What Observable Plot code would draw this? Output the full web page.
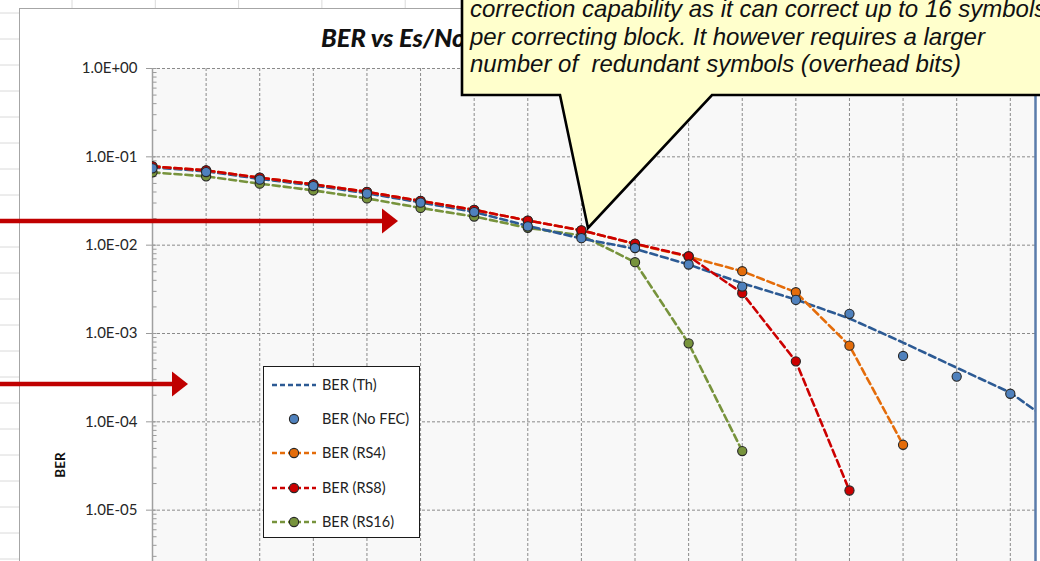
<!DOCTYPE html>
<html><head><meta charset="utf-8">
<script src="https://cdn.jsdelivr.net/npm/d3@7"></script>
<script src="https://cdn.jsdelivr.net/npm/@observablehq/plot@0.6"></script>
<style>
html,body{margin:0;padding:0;background:#fff;}
#wrap{position:relative;width:1040px;height:561px;overflow:hidden;background:#fff;}
#sheet,#plot,#overlay{position:absolute;left:0;top:0;}
#chartArea{position:absolute;left:19px;top:8px;width:1100px;height:700px;background:#fff;border-left:1.5px solid #a6a6a6;border-top:1.5px solid #a6a6a6;}
#legend{position:absolute;left:263px;top:366px;width:157px;height:172px;background:#fff;border:1.3px solid #1a1a1a;box-sizing:border-box;font-family:Lato,sans-serif;font-size:14.5px;color:#222;}
.li{position:absolute;left:0;height:20px;width:150px;}
.li svg{position:absolute;left:0;top:0;}
.li span{position:absolute;left:58px;top:1px;white-space:nowrap;}
</style></head>
<body>
<div id="wrap">
  <svg id="sheet" width="1040" height="561"></svg>
  <div id="chartArea"></div>
  <div id="plot"></div>
  <div id="legend"></div>
  <svg id="overlay" width="1040" height="561"></svg>
</div>
<script>
// ---- data ----
const esNo = [0,1,2,3,4,5,6,7,8,9,10,11,12,13,14,15,16,17];
const berTh    = [0.0760,0.0685,0.0563,0.0475,0.0386,0.0305,0.0238,0.0165,0.0119,0.0091,0.00604,0.00371,0.00242,0.00148,0.000789,0.000410,0.000214,0.000079];
const berNoFec = [0.0741,0.0673,0.0552,0.0467,0.0383,0.0303,0.0237,0.0163,0.0120,0.00929,0.00604,0.00340,0.00240,0.00167,0.000557,0.000325,0.000208];
const berRS4   = [0.0780,0.0703,0.0581,0.0488,0.0401,0.0317,0.0251,0.0190,0.0147,0.0103,0.0074,0.00507,0.00293,0.000729,0.000055];
const berRS8   = [0.0780,0.0703,0.0581,0.0488,0.0401,0.0317,0.0251,0.0190,0.0147,0.0104,0.00750,0.00286,0.000484,0.0000167];
const berRS16  = [0.0667,0.0601,0.0497,0.0417,0.0338,0.0264,0.0211,0.0157,0.0129,0.00641,0.000774,0.0000467];
const seriesNames = ["BER (Th)","BER (No FEC)","BER (RS4)","BER (RS8)","BER (RS16)"];
const decades = [1,1e-1,1e-2,1e-3,1e-4,1e-5,1e-6];
const titleText = "BER vs Es/No";
const yLabel = "BER";
const calloutLines = ["correction capability as it can correct up to 16 symbols","per correcting block. It however requires a larger","number of  redundant symbols (overhead bits)"];

// ---- styles ----
const styles = [
  {color:"#2c5a94", line:true,  dot:false, values:berTh},
  {color:"#4f81bd", line:false, dot:true,  values:berNoFec},
  {color:"#e46c0a", line:true,  dot:true,  values:berRS4},
  {color:"#cc0000", line:true,  dot:true,  values:berRS8},
  {color:"#77933c", line:true,  dot:true,  values:berRS16}
];
const rowsOf = i => styles[i].values.map((v,j)=>({esno:esNo[j], ber:v, series:seriesNames[i]}));
const rows = styles.map((_,i)=>rowsOf(i));
const xMax = 16.47;
const fmtE = d => { const [m,e] = d.toExponential(1).split("e"); return m+"E"+e[0]+e.slice(1).padStart(2,"0"); };
const minor = d3.range(-6,0).flatMap(k => d3.range(2,10).map(m => m*Math.pow(10,k)));
const dash = "7,4";

const lineMark = i => Plot.line(rows[i], {x:"esno", y:"ber", stroke:styles[i].color, strokeWidth:2.6, strokeDasharray:dash, clip:true});
const dotMark = i => Plot.dot(rows[i], {x:"esno", y:"ber", r:4.6, fill:styles[i].color, stroke:"#262626", strokeWidth:1.1, clip:true});

const chart = Plot.plot({
  width:1040, height:640,
  marginLeft:152, marginRight:5, marginTop:68, marginBottom:42,
  style:{background:"transparent", fontFamily:"Lato, sans-serif", overflow:"visible"},
  x:{domain:[0,xMax], axis:null},
  y:{type:"log", domain:[1e-6,1], axis:null},
  marks:[
    Plot.frame({fill:"#f8f8f8", stroke:null}),
    Plot.gridX({ticks:esNo.slice(1,17), stroke:"#8a8a8a", strokeOpacity:1, strokeWidth:1, strokeDasharray:"3,2"}),
    Plot.gridY({ticks:decades, stroke:"#8a8a8a", strokeOpacity:1, strokeWidth:1, strokeDasharray:"3,2"}),
    Plot.ruleY(minor, {x1:0, x2:0.085, stroke:"#9a9a9a", strokeWidth:1}),
    Plot.ruleY(decades, {x1:0, x2:0.085, stroke:"#9a9a9a", strokeWidth:1}),
    Plot.axisY({ticks:decades.slice(0,6), tickFormat:fmtE, tickSize:6, tickPadding:9, fontSize:15, stroke:"#9a9a9a", fill:"#262626", label:null}),
    Plot.ruleX([0], {stroke:"#a0a0a0", strokeWidth:1.5}),
    lineMark(4), lineMark(0), lineMark(2), lineMark(3),
    dotMark(4), dotMark(2), dotMark(3), dotMark(1),
    Plot.ruleX([xMax], {stroke:"#5b7cab", strokeWidth:2.5})
  ]
});
document.getElementById("plot").appendChild(chart);

// ---- spreadsheet background grid ----
const sheet = d3.select("#sheet");
d3.range(0,22).forEach(k => sheet.append("line").attr("x1",0).attr("x2",19).attr("y1",13+26*k).attr("y2",13+26*k).attr("stroke","#dadada"));
d3.range(0,13).forEach(k => sheet.append("line").attr("x1",72+83.3*k).attr("x2",72+83.3*k).attr("y1",0).attr("y2",8).attr("stroke","#dadada"));

// ---- legend ----
const legend = d3.select("#legend");
styles.forEach((s,i) => {
  const it = legend.append("div").attr("class","li").style("top",(8+34.2*i)+"px");
  const sv = it.append("svg").attr("width",56).attr("height",20);
  if (s.line) sv.append("line").attr("x1",8).attr("x2",52).attr("y1",10).attr("y2",10).attr("stroke",s.color).attr("stroke-width",2.4).attr("stroke-dasharray","5,3");
  if (s.dot) sv.append("circle").attr("cx",30).attr("cy",10).attr("r",4.6).attr("fill",s.color).attr("stroke","#262626").attr("stroke-width",1.1);
  it.append("span").text(seriesNames[i]);
});

// ---- overlay: title, axis label, arrows, callout ----
const ov = d3.select("#overlay");
ov.append("text").attr("x",321).attr("y",47).attr("font-family","Lato, sans-serif").attr("font-weight",900).attr("font-style","italic").attr("font-size",25.5).attr("fill","#111").text(titleText);
ov.append("text").attr("transform","translate(64.5,465) rotate(-90)").attr("text-anchor","middle").attr("font-family","Lato, sans-serif").attr("font-weight",700).attr("font-size",13.5).attr("fill","#111").text(yLabel);
const arrow = (y, xEnd) => {
  ov.append("line").attr("x1",0).attr("x2",xEnd-14).attr("y1",y).attr("y2",y).attr("stroke","#c00000").attr("stroke-width",4.5);
  ov.append("path").attr("d",`M${xEnd-16},${y-12.5} L${xEnd},${y} L${xEnd-16},${y+12.5} Z`).attr("fill","#c00000");
};
arrow(221, 398);
arrow(384, 188);
ov.append("path").attr("d","M462,-6 L1046,-6 L1046,95 L712,95 L588,228 L560,95 L462,95 Z").attr("fill","#ffffcc").attr("stroke","#000").attr("stroke-width",2.6).attr("stroke-linejoin","miter");
calloutLines.forEach((t,i) => ov.append("text").attr("x",470).attr("y",17+27.6*i).attr("font-family","'Liberation Sans', Arial, sans-serif").attr("font-style","italic").attr("font-size",24).attr("fill","#111").style("white-space","pre").text(t));
</script>
</body></html>
